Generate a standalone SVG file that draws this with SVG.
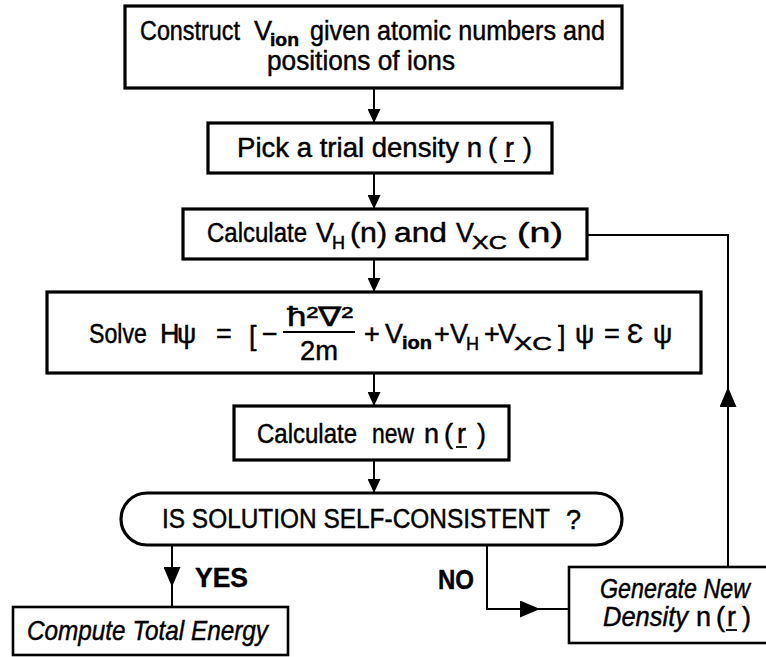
<svg xmlns="http://www.w3.org/2000/svg" width="766" height="657" viewBox="0 0 766 657">
<style>
.box{fill:#fff;stroke:#000;stroke-width:2.6}
.thick{stroke-width:3.2}
.ln{fill:none;stroke:#000;stroke-width:2}
text{font-family:"Liberation Sans","DejaVu Sans",sans-serif;font-size:27px;fill:#000;stroke:#000;stroke-width:0.45}
.it{font-style:italic}
.b{font-weight:bold}
.sub{font-size:18px}
.ul{stroke:#000;stroke-width:1.8}
</style>
<defs>
<marker id="ah" markerUnits="userSpaceOnUse" markerWidth="14" markerHeight="13" viewBox="0 0 14 13" refX="14" refY="6.5" orient="auto"><path d="M0,0 L14,6.5 L0,13 z" fill="#000"/></marker>
<marker id="ahL" markerUnits="userSpaceOnUse" markerWidth="20" markerHeight="17" viewBox="0 0 20 17" refX="20" refY="8.5" orient="auto"><path d="M0,0 L20,8.5 L0,17 z" fill="#000"/></marker>
</defs>
<rect width="766" height="657" fill="#fff"/>

<g id="connectors">
<path class="ln" d="M374,88 V123" marker-end="url(#ah)"/>
<path class="ln" d="M374,173 V209" marker-end="url(#ah)"/>
<path class="ln" d="M374,259 V292" marker-end="url(#ah)"/>
<path class="ln" d="M374,373 V406" marker-end="url(#ah)"/>
<path class="ln" d="M374,460 V493" marker-end="url(#ah)"/>
<path class="ln" d="M172,545 V587" marker-end="url(#ahL)"/>
<path class="ln" d="M172,585 V607"/>
<path class="ln" d="M487,545 V609 H540" marker-end="url(#ahL)"/>
<path class="ln" d="M538,609 H569"/>
<path class="ln" d="M728,567 V387" marker-end="url(#ahL)"/>
<path class="ln" d="M728,390 V235 H587"/>
</g>

<g id="n1">
<rect class="box thick" x="125" y="6" width="497" height="82"/>
<text x="140" y="40" textLength="100" lengthAdjust="spacingAndGlyphs">Construct</text>
<text x="254" y="40">V</text><text class="sub b" x="270" y="46" textLength="29" lengthAdjust="spacingAndGlyphs">ion</text>
<text x="310" y="40" textLength="295" lengthAdjust="spacingAndGlyphs">given atomic numbers and</text>
<text x="267" y="70" textLength="188" lengthAdjust="spacingAndGlyphs">positions of ions</text>
</g>

<g id="n2">
<rect class="box thick" x="208" y="123" width="344" height="50"/>
<text x="237" y="157" textLength="245" lengthAdjust="spacingAndGlyphs">Pick a trial density n</text>
<text x="488" y="157">(</text><text x="505" y="157">r</text><text x="523" y="157">)</text>
<line class="ul" x1="504" y1="161" x2="515" y2="161"/>
</g>

<g id="n3">
<rect class="box thick" x="183" y="209" width="404" height="50"/>
<text x="207" y="242" textLength="100" lengthAdjust="spacingAndGlyphs">Calculate</text>
<text x="316" y="242">V</text><text class="sub" x="332" y="249">H</text>
<text x="350" y="242" textLength="37" lengthAdjust="spacingAndGlyphs">(n)</text>
<text x="394" y="242" textLength="53" lengthAdjust="spacingAndGlyphs">and</text>
<text x="456" y="242">V</text><text class="sub" x="472" y="249" textLength="35" lengthAdjust="spacingAndGlyphs">XC</text>
<text x="517" y="242" textLength="46" lengthAdjust="spacingAndGlyphs">(n)</text>
</g>

<g id="n4">
<rect class="box thick" x="47" y="292" width="654" height="81"/>
<text x="89" y="343" textLength="58" lengthAdjust="spacingAndGlyphs">Solve</text>
<text x="160" y="343">H</text>
<text x="177" y="343" font-size="30">ψ</text>
<text x="216" y="343">=</text>
<text x="249" y="345" font-size="52">[</text>
<text x="262" y="343">−</text>
<text x="287" y="326" font-size="22" textLength="66" lengthAdjust="spacingAndGlyphs">ħ²∇²</text>
<line class="ul" x1="283" y1="332" x2="355" y2="332"/>
<text x="300" y="360" font-size="22" textLength="38" lengthAdjust="spacingAndGlyphs">2m</text>
<text x="364" y="343">+</text>
<text x="385" y="343">V</text><text class="sub b" x="402" y="349" textLength="30" lengthAdjust="spacingAndGlyphs">ion</text>
<text x="434" y="343">+</text>
<text x="450" y="343">V</text><text class="sub" x="466" y="350">H</text>
<text x="484" y="343">+</text>
<text x="498" y="343">V</text><text class="sub" x="514" y="350" textLength="38" lengthAdjust="spacingAndGlyphs">XC</text>
<text x="558" y="345" font-size="52">]</text>
<text x="575" y="343" font-size="30">ψ</text>
<text x="604" y="343">=</text>
<text x="627" y="343" font-size="28">Ɛ</text>
<text x="653" y="343" font-size="30">ψ</text>
</g>

<g id="n5">
<rect class="box thick" x="234" y="406" width="275" height="54"/>
<text x="257" y="443" textLength="100" lengthAdjust="spacingAndGlyphs">Calculate</text>
<text x="372" y="443" textLength="42" lengthAdjust="spacingAndGlyphs">new</text>
<text x="424" y="443">n</text>
<text x="444" y="443">(</text><text x="457" y="443">r</text><text x="477" y="443">)</text>
<line class="ul" x1="456" y1="447" x2="467" y2="447"/>
</g>

<g id="n6">
<rect class="box thick" x="121" y="493" width="501" height="52" rx="26" ry="26"/>
<text x="162" y="528" textLength="388" lengthAdjust="spacingAndGlyphs">IS SOLUTION SELF-CONSISTENT</text>
<text x="566" y="529" font-size="34">?</text>
</g>

<g id="n7">
<rect class="box" x="13" y="607" width="275" height="48"/>
<text class="it" x="27" y="640" textLength="241" lengthAdjust="spacingAndGlyphs">Compute Total Energy</text>
</g>

<g id="n8">
<rect class="box" x="569" y="567" width="210" height="76"/>
<text class="it" x="600" y="598" textLength="150" lengthAdjust="spacingAndGlyphs">Generate New</text>
<text class="it" x="603" y="626" textLength="85" lengthAdjust="spacingAndGlyphs">Density</text>
<text x="696" y="626">n</text>
<text x="716" y="626">(</text><text x="727" y="626">r</text><text x="742" y="626">)</text>
<line class="ul" x1="726" y1="630" x2="737" y2="630"/>
</g>

<g id="labels">
<text class="b" x="195" y="587" textLength="53" lengthAdjust="spacingAndGlyphs">YES</text>
<text class="b" x="438" y="589" textLength="36" lengthAdjust="spacingAndGlyphs">NO</text>
</g>
</svg>
